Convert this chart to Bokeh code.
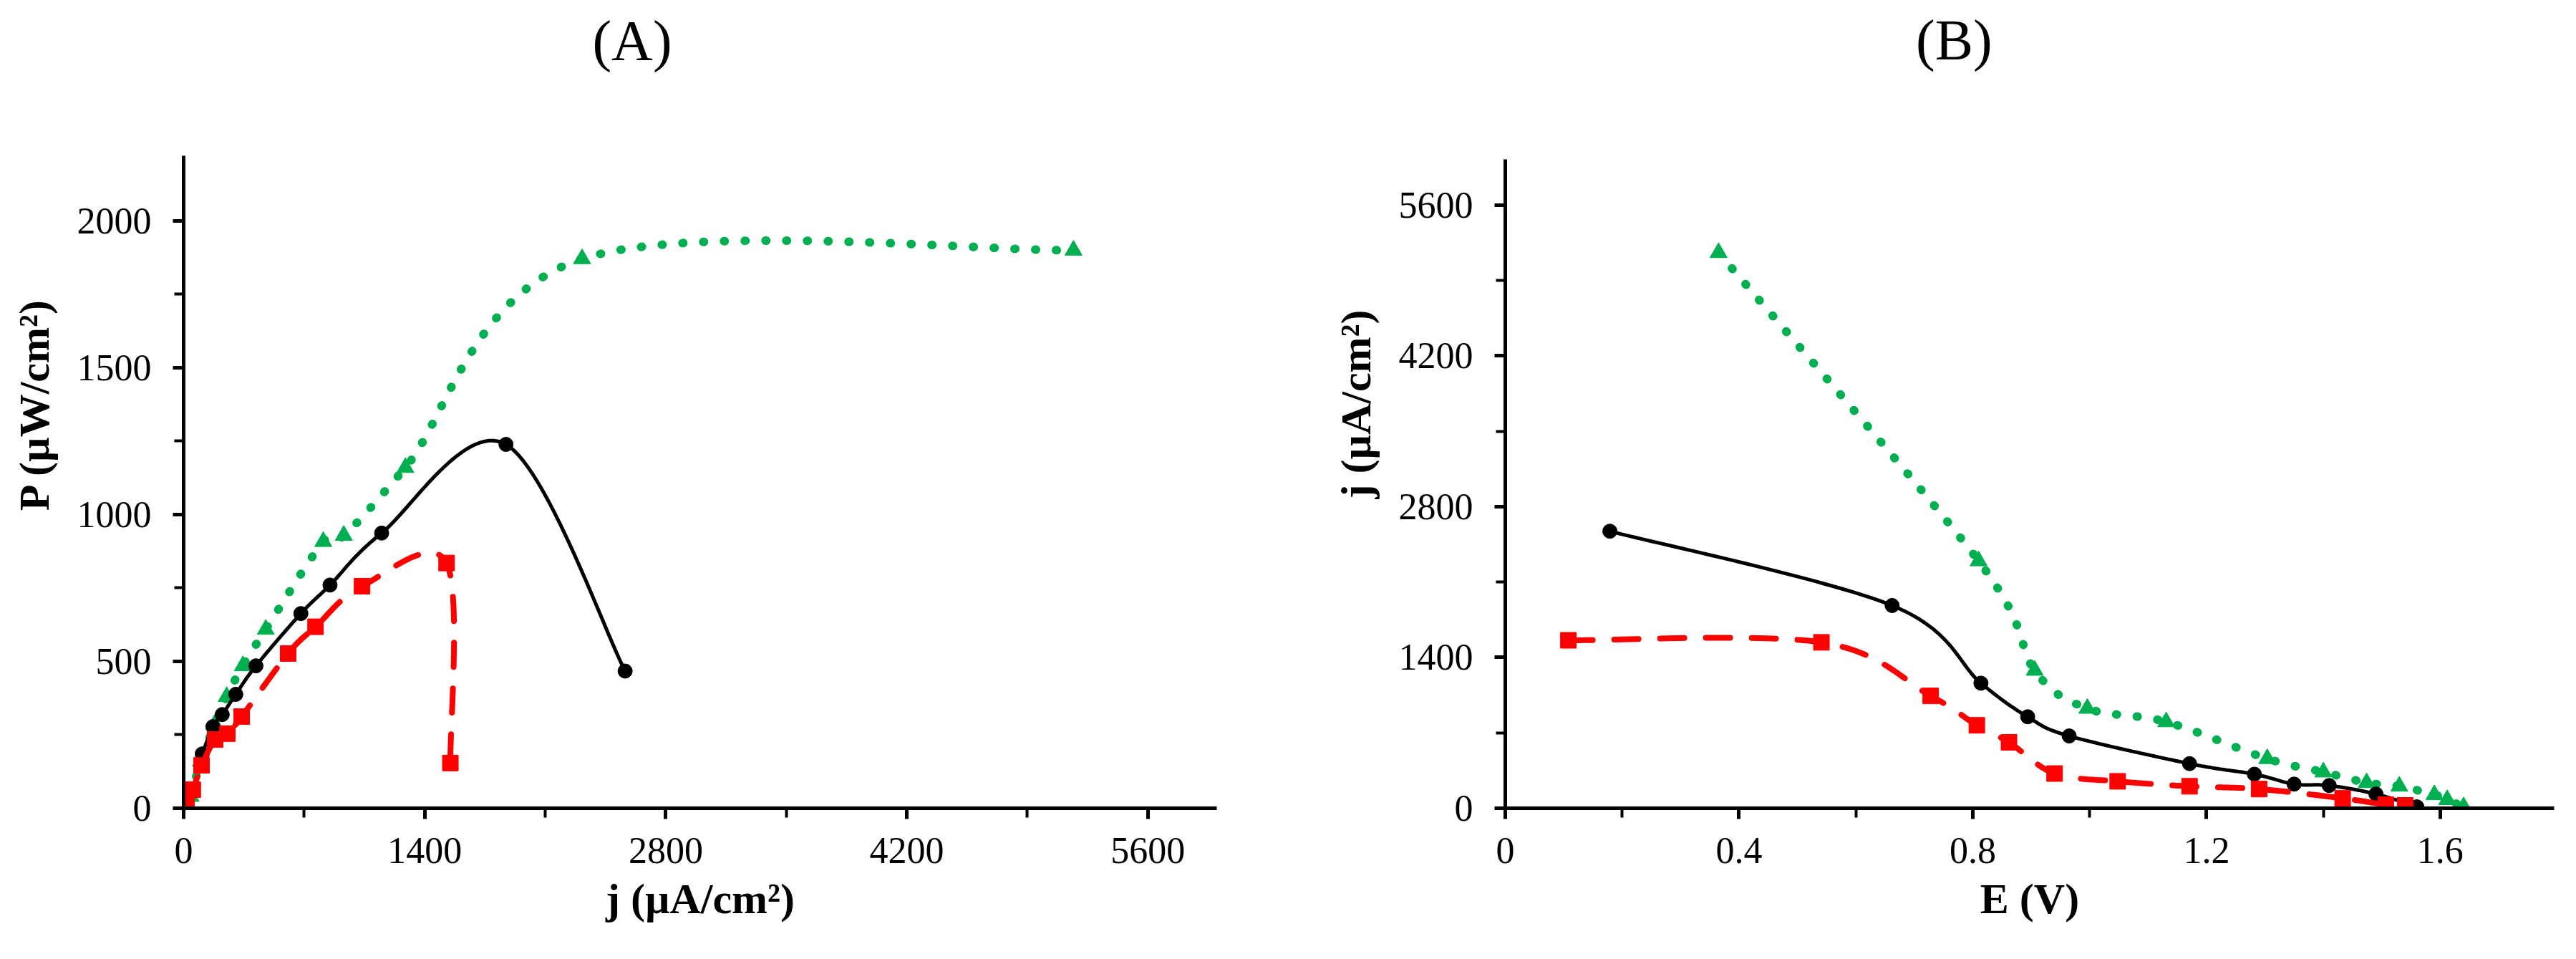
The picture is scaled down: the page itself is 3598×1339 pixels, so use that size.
import numpy as np
from bokeh.core.properties import value
from bokeh.layouts import row
from bokeh.plotting import figure
from bokeh.models import FixedTicker, Range1d
from bokeh.embed import file_html
from bokeh.resources import INLINE

FONT = "Liberation Serif"
GREEN = "#00B050"
RED = "#FF0000"
BLACK = "#000000"

# (A) power density P vs current density j
a_black_j = [108, 170, 224, 303, 420, 681, 850, 1150, 1872, 2564]
a_black_p = [185, 278, 319, 388, 485, 663, 760, 937, 1239, 467]
a_red_j = [17, 53, 104, 183, 254, 337, 607, 766, 1036, 1527, 1549]
a_red_p = [34, 63, 146, 234, 254, 312, 527, 618, 756, 835, 154]
a_green_j = [40, 100, 180, 250, 344, 477, 811, 930, 1288, 2314, 5168]
a_green_p = [40, 160, 285, 380, 485, 609, 908, 929, 1160, 1871, 1900]

# (B) current density j vs potential E
b_black_e = [0.179, 0.662, 0.814, 0.894, 0.965, 1.171, 1.282, 1.350, 1.41, 1.49, 1.56]
b_black_j = [2572, 1882, 1161, 849, 671, 414, 316, 224, 211, 132, 13]
b_red_e = [0.108, 0.541, 0.728, 0.807, 0.862, 0.940, 1.048, 1.171, 1.29, 1.433, 1.507, 1.54]
b_red_j = [1559, 1540, 1043, 770, 612, 322, 250, 204, 178, 92, 33, 26]
b_green_e = [0.365, 0.810, 0.906, 0.996, 1.131, 1.304, 1.40, 1.474, 1.53, 1.59, 1.612, 1.64]
b_green_j = [5158, 2296, 1280, 927, 802, 460, 336, 237, 204, 125, 79, 13]

a_xticks = [0, 1400, 2800, 4200, 5600]
a_yticks = [0, 500, 1000, 1500, 2000]
b_xticks = [0, 0.4, 0.8, 1.2, 1.6]
b_yticks = [0, 1400, 2800, 4200, 5600]


def smooth(xs, ys, n=30):
    # Excel-like smoothed line: Catmull-Rom style cubic Bezier through the points
    pts = list(zip(xs, ys))
    ox, oy = [], []
    t = np.linspace(0, 1, n, endpoint=False)
    for i in range(len(pts) - 1):
        p0 = pts[i - 1] if i > 0 else pts[i]
        p1, p2 = pts[i], pts[i + 1]
        p3 = pts[i + 2] if i + 2 < len(pts) else pts[i + 1]
        c1 = (p1[0] + (p2[0] - p0[0]) / 6, p1[1] + (p2[1] - p0[1]) / 6)
        c2 = (p2[0] - (p3[0] - p1[0]) / 6, p2[1] - (p3[1] - p1[1]) / 6)
        for k in (0, 1):
            b = ((1 - t) ** 3 * p1[k] + 3 * (1 - t) ** 2 * t * c1[k]
                 + 3 * (1 - t) * t ** 2 * c2[k] + t ** 3 * p2[k])
            (ox if k == 0 else oy).extend(b.tolist())
    ox.append(pts[-1][0])
    oy.append(pts[-1][1])
    return ox, oy


def style(p, xticks, xminor, yticks, yminor, ytop, xlabel, ylabel):
    p.xaxis.ticker = FixedTicker(ticks=xticks, minor_ticks=xminor)
    p.yaxis.ticker = FixedTicker(ticks=yticks, minor_ticks=yminor)
    p.yaxis.bounds = (0, ytop)  # axis line stops below the panel title
    p.xaxis.axis_label = xlabel
    p.yaxis.axis_label = ylabel
    for ax in (p.xaxis, p.yaxis):
        ax.axis_line_width = 5
        ax.axis_line_color = BLACK
        ax.major_tick_line_width = 5
        ax.minor_tick_line_width = 4
        ax.major_tick_out = 15
        ax.major_tick_in = 0
        ax.minor_tick_out = 13
        ax.minor_tick_in = 0
        ax.major_label_text_font = FONT
        ax.major_label_text_font_size = "52px"
        ax.major_label_text_color = BLACK
        ax.axis_label_text_font = FONT
        ax.axis_label_text_font_size = "60px"
        ax.axis_label_text_font_style = "bold"
        ax.axis_label_text_color = BLACK
    p.xaxis.major_label_standoff = 26
    p.yaxis.major_label_standoff = 30
    p.xaxis.axis_label_standoff = 14
    p.yaxis.axis_label_standoff = 24
    p.xgrid.visible = False
    p.ygrid.visible = False
    p.outline_line_color = None
    p.background_fill_color = "white"
    p.border_fill_color = "white"


def panel_title(p, text, x, y):
    p.text(x=[x], y=[y], text=[text], text_font=value(FONT), text_font_size="80px",
           text_align="center", text_baseline="middle", text_color=BLACK)


# frame reaches the canvas top so the panel titles can sit inside it
pa = figure(width=1795, height=1320, output_backend="svg", toolbar_location=None,
            x_range=Range1d(0, 6000), y_range=Range1d(0, 2751),
            min_border_left=256, min_border_right=96, min_border_top=0, min_border_bottom=192)
style(pa, a_xticks, list(range(0, 6001, 700)), a_yticks, list(range(0, 2201, 250)), 2222,
      "j (µA/cm²)", "P (µW/cm²)")
panel_title(pa, "(A)", 2605, 2612)

x, y = smooth(a_green_j, a_green_p)
pa.line(x, y, line_color=GREEN, line_width=12, line_dash="1 28", line_cap="round")
pa.scatter(a_green_j, a_green_p, marker="triangle", size=24, color=GREEN)
x, y = smooth(a_black_j, a_black_p)
pa.line(x, y, line_color=BLACK, line_width=5)
pa.scatter(a_black_j, a_black_p, marker="circle", size=20, color=BLACK)
x, y = smooth(a_red_j, a_red_p)
pa.line(x, y, line_color=RED, line_width=8, line_dash="34 30", line_cap="round")
pa.scatter(a_red_j, a_red_p, marker="square", size=22, color=RED)

pb = figure(width=1787, height=1320, output_backend="svg", toolbar_location=None,
            x_range=Range1d(0, 1.795), y_range=Range1d(0, 7500),
            min_border_left=307, min_border_right=15, min_border_top=0, min_border_bottom=180)
style(pb, b_xticks, [0, 0.2, 0.4, 0.6, 0.8, 1.0, 1.2, 1.4, 1.6, 1.8],
      b_yticks, list(range(0, 6001, 700)), 6026, "E (V)", "j (µA/cm²)")
panel_title(pb, "(B)", 0.768, 7130)

x, y = smooth(b_green_e, b_green_j)
pb.line(x, y, line_color=GREEN, line_width=12, line_dash="1 28", line_cap="round")
pb.scatter(b_green_e, b_green_j, marker="triangle", size=24, color=GREEN)
x, y = smooth(b_black_e, b_black_j)
pb.line(x, y, line_color=BLACK, line_width=5)
pb.scatter(b_black_e, b_black_j, marker="circle", size=20, color=BLACK)
x, y = smooth(b_red_e, b_red_j)
pb.line(x, y, line_color=RED, line_width=8, line_dash="34 30", line_cap="round")
pb.scatter(b_red_e, b_red_j, marker="square", size=22, color=RED)

layout = row(pa, pb)
open("out.html", "w").write(file_html(layout, INLINE))
